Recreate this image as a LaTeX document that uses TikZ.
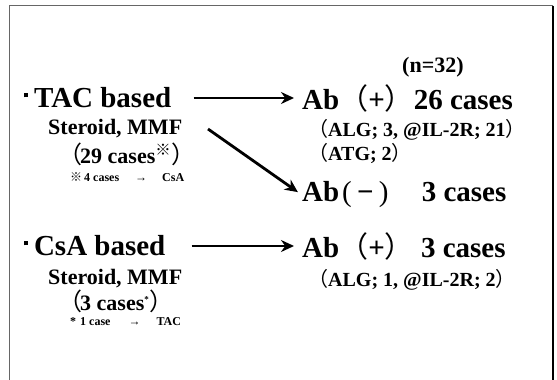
\documentclass[tikz,border=0pt]{standalone}
\usepackage{fontspec}
\setmainfont{Liberation Serif}
\newfontfamily\cjk{Noto Sans CJK JP}
\usetikzlibrary{arrows.meta}
\newcommand{\fwl}{{\cjk\mdseries （}}
\newcommand{\fwr}{{\cjk\mdseries ）}}
\newcommand{\kome}{{\cjk\mdseries ※}}
\newcommand{\sqdot}{\raisebox{0.36em}{\rule{0.14em}{0.14em}}\hspace{0.2em}}
\newcommand{\myparl}{\smash{\fontsize{24}{24}\selectfont\fwl}}
\newcommand{\myparr}{\smash{\fontsize{24}{24}\selectfont\fwr}}
\begin{document}
\begin{tikzpicture}[x=1pt,y=-1pt,
  txt/.style={inner sep=0pt,anchor=west,font=\bfseries},
  big/.style={txt,font=\fontsize{29}{30}\selectfont\bfseries},
  mid/.style={txt,font=\fontsize{22}{23}\selectfont\bfseries},
  sub/.style={txt,font=\fontsize{20}{21}\selectfont\bfseries},
  note/.style={txt,font=\fontsize{12}{13}\selectfont\bfseries},
  arr/.style={-{Stealth[length=13pt,width=12pt]},line width=2.8pt}]
\useasboundingbox (0,0) rectangle (557,380);
\draw[line width=1.5pt,gray!80!black] (9.5,381) -- (9.5,5.5) -- (553,5.5);
\draw[line width=1.5pt,black] (553,5.5) -- (553,381);

\node[txt,font=\fontsize{22}{23}\selectfont\bfseries] (n) at (402,67) {(n=32)};

\node[big] (tac) at (24,98) {\sqdot TAC based};
\node[big] (abp1) at (302,98) {Ab\fwl+\fwr26 cases};
\node[mid] (st1) at (48,129) {Steroid, MMF};
\node[mid] (c29) at (58,154) {\myparl\hspace{-2pt}29 cases\textsuperscript{\kome}\myparr};
\node[note] (nt1) at (70,177) {\kome\hspace{2pt}4 cases\hspace{16pt}\textrightarrow\hspace{15pt}CsA};
\node[sub] (alg1) at (308,130) {\fwl ALG; 3, @IL-2R; 21\fwr};
\node[sub] (atg) at (308,153) {\fwl ATG; 2\fwr};
\node[big] (abm) at (302,195) {Ab{\mdseries\hspace{0.1em}(\hspace{0.18em}}−{\mdseries\hspace{0.18em})}\hspace{1.15em}3 cases};

\node[big] (csa) at (24,246) {\sqdot CsA based};
\node[big] (abp2) at (302,246) {Ab\fwl+\fwr\ 3 cases};
\node[mid] (st2) at (48,279) {Steroid, MMF};
\node[mid] (c3) at (58,303) {\myparl\hspace{-2pt}3 cases\textsuperscript{\small *}\myparr};
\node[note] (nt2) at (70,322) {*\hspace{4pt}1 case\hspace{18pt}\textrightarrow\hspace{16pt}TAC};
\node[sub] (alg2) at (308,280) {\fwl ALG; 1, @IL-2R; 2\fwr};

\coordinate (d1) at (208,129);
\draw[arr,shorten <=22pt,shorten >=8pt] (tac) -- (abp1);
\draw[arr,shorten >=5pt] (d1) -- (abm.west);
\draw[arr,shorten <=26pt,shorten >=8pt] (csa) -- (abp2);
\end{tikzpicture}
\end{document}
